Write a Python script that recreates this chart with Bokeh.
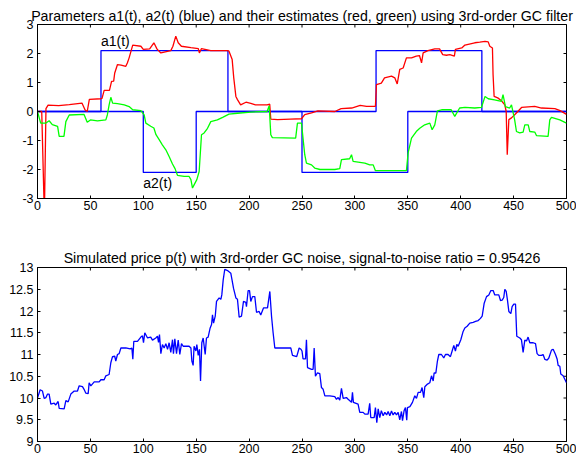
from bokeh.plotting import figure
from bokeh.models import LinearAxis, FixedTicker, Range1d
from bokeh.layouts import column
from bokeh.core.properties import value
from bokeh.embed import file_html
from bokeh.resources import INLINE

# ---------------- data ----------------
title_top = "Parameters a1(t), a2(t) (blue) and their estimates (red, green) using 3rd-order GC filter"
title_bottom = "Simulated price p(t) with 3rd-order GC noise, signal-to-noise ratio = 0.95426"

x_ticks = [0, 50, 100, 150, 200, 250, 300, 350, 400, 450, 500]
y_ticks_top = [-3, -2, -1, 0, 1, 2, 3]
y_labels_top = ["-3", "-2", "-1", "0", "1", "2", "3"]
y_ticks_bottom = [9, 9.5, 10, 10.5, 11, 11.5, 12, 12.5, 13]
y_labels_bottom = ["9", "9.5", "10", "10.5", "11", "11.5", "12", "12.5", "13"]

a1_t = [0, 60, 60, 180, 180, 320, 320, 420, 420, 500]
a1_v = [0, 0, 2.1, 2.1, 0, 0, 2.1, 2.1, 0, 0]
a2_t = [0, 100, 100, 150, 150, 250, 250, 350, 350, 500]
a2_v = [0, 0, -2.1, -2.1, 0, 0, -2.1, -2.1, 0, 0]

labels_text = ["a1(t)", "a2(t)"]
labels_t = [60, 100]
labels_v = [2.42, -2.46]

red_t = [0, 4, 6.5, 8, 10, 20, 30, 42, 45, 47, 49, 60, 61, 63, 68, 70, 72, 73, 75.6, 79,
         83.5, 85, 86.6, 90, 97.7, 100, 106, 110, 113, 116.6, 126, 128, 130.7, 133, 136, 145,
         152, 153, 155, 163.8, 179.6, 181, 184, 185.5, 187.5, 189, 192, 197, 201.6, 206, 217,
         219.5, 220.5, 227, 239, 249.5, 252.6, 259, 265, 281, 287, 297, 305, 311, 319.4, 320.4,
         325, 328, 334.6, 337.7, 340, 342.4, 345.6, 348.7, 353.5, 358, 361, 363, 364.5, 369,
         375.5, 380, 383, 386.5, 389.7, 394, 395, 401, 404, 413.3, 418, 423, 426, 427.5, 430,
         430.6, 431.6, 435, 438.5, 441.7, 443, 444, 445.5, 448, 451, 454, 457.5, 470, 476.3,
         489, 494, 500]
red_v = [0.0, 0.0, -3.6, 0.1, 0.22, 0.2, 0.24, 0.29, 0.05, 0.0, 0.42, 0.44, 0.45, 0.73, 0.73,
         1.04, 1.05, 1.33, 1.62, 1.6, 1.56, 1.68, 1.85, 2.29, 2.25, 2.14, 2.16, 2.37, 2.15, 2.02,
         2.1, 2.25, 2.6, 2.37, 2.25, 2.2, 2.17, 2.02, 2.17, 2.1, 2.1, 2.08, 1.79, 1.16, 0.52,
         0.41, 0.23, 0.32, 0.28, 0.23, 0.23, 0.25, -0.26, -0.28, -0.26, -0.25, -0.11, -0.05,
         0.02, 0.0, 0.1, 0.12, 0.21, 0.18, 0.18, 0.93, 0.98, 1.16, 1.22, 1.16, 0.95, 1.45, 1.5,
         1.85, 1.85, 1.91, 1.93, 1.68, 2.02, 2.1, 2.16, 2.16, 1.96, 1.94, 1.96, 1.91, 2.14, 2.19,
         2.29, 2.37, 2.39, 2.42, 2.4, 2.25, 2.19, 1.27, 0.52, 0.47, 0.37, 0.23, 0.0, -1.49,
         -0.28, -0.22, -0.11, 0.0, 0.14, 0.18, 0.12, 0.1, 0.03, -0.1]

green_t = [0, 3, 8, 11, 14, 19, 20.5, 25, 26.8, 30, 44, 47, 50, 56.7, 64.6, 66, 67.7, 69.3, 71,
           75.6, 82, 86.6, 90, 97.7, 100.8, 102.4, 107, 110, 112, 115, 118, 121.3, 124.4, 127.6,
           130, 132.3, 138.6, 143.3, 145, 146.5, 148, 150.6, 152.8, 153.7, 155, 157.5, 160.7,
           163.8, 170, 175, 181, 189, 201.6, 217, 219, 220.5, 222, 244, 245.7, 249.5, 252.6,
           254.2, 259, 262, 267, 281, 285.7, 287.3, 295, 296.8, 298.3, 309.4, 314, 317.3, 319.4,
           341, 348.7, 350.3, 353.5, 358, 361.3, 366, 370.8, 373, 375.5, 378, 382, 391, 394.4,
           399, 404, 413.3, 419.6, 423, 426, 432, 438.5, 440, 442.3, 446.3, 448, 451, 452.7,
           455.8, 459, 460.6, 463.8, 465.3, 470, 471.6, 482.6, 484.2, 485.8, 493.7, 500]
green_v = [0, -0.4, -0.4, -0.32, -0.45, -0.51, -0.86, -0.86, -0.35, -0.12, -0.1, -0.37, -0.29,
           -0.32, -0.29, -0.12, 0.23, 0.49, 0.29, 0.27, 0.23, 0.17, 0.06, 0.03, -0.12, -0.4,
           -0.51, -0.57, -0.8, -0.97, -1.15, -1.32, -1.55, -1.81, -1.97, -2.2, -2.24, -2.24,
           -2.35, -2.64, -2.53, -2.35, -2.07, -1.55, -0.8, -0.74, -0.58, -0.35, -0.29, -0.2,
           -0.09, -0.06, -0.02, 0.0, 0.2, -0.8, -0.9, -0.92, -0.4, -0.4, -1.49, -1.78, -1.84,
           -1.95, -2.0, -2.0, -1.97, -1.66, -1.63, -1.49, -1.72, -1.78, -1.84, -1.84, -2.04,
           -2.04, -2.04, -1.43, -0.92, -0.69, -0.58, -0.46, -0.4, -0.63, -0.46, 0.02, 0.06,
           0.06, -0.17, 0.12, 0.14, 0.12, 0.14, 0.52, 0.44, 0.4, 0.35, 0.58, 0.17, 0.12, 0.23,
           -0.29, -0.69, -0.74, -0.71, -0.46, -0.46, -0.69, -0.71, -0.83, -0.86, -0.29, -0.2,
           -0.29, -0.4]

price_t = [0, 2.5, 4.7, 6.3, 8, 9.5, 11, 12.6, 15.8, 17.3, 19.5, 20.5, 25.2, 26.8, 29, 31.5,
           34.7, 37.8, 39.4, 42.5, 44, 45.7, 47.9, 48.8, 50.4, 53.6, 58.3, 59.9, 63, 64.6, 67.7,
           69.3, 70.9, 73, 74, 75.6, 77.2, 78.8, 83.5, 87.6, 89.2, 90.1, 91, 94.5, 97.7, 99.2,
           100.2, 101.4, 104, 107, 108.7, 111.8, 113.4, 114.4, 115.3, 116.6, 118.1, 119.7, 121.3,
           122.9, 124.4, 126, 127.6, 128.5, 129.8, 131.4, 133, 134.5, 136.1, 137.7, 140.2, 143.3,
           145, 145.9, 147.1, 148, 149.7, 150.6, 151.9, 153.1, 154.1, 155.3, 156.6, 158.5, 159.7,
           161.3, 163.2, 164.5, 165.4, 166.4, 168, 169.2, 171.7, 173.3, 174.2, 175.5, 177, 179.6,
           182.7, 185.3, 187.5, 189, 190.6, 192.8, 194.7, 196.9, 197.5, 199.1, 200.4, 201.6,
           203.2, 205.4, 207, 209.5, 211, 213.6, 217.4, 219.6, 221.2, 222.7, 224.3, 230, 239.4,
           241, 245, 247.3, 249, 250, 251, 253.3, 254.2, 255.2, 259, 260.5, 261.5, 262.7, 264.6,
           266.8, 268.4, 270, 271.6, 276.3, 281, 282.6, 284.2, 285.7, 287.3, 288.9, 292, 293.6,
           296.8, 297.7, 298.6, 303, 304.6, 307.8, 309.4, 312.5, 314, 315, 318.2, 319.4, 320.7,
           322, 323.5, 325, 326.7, 328.3, 330, 331.4, 333, 334.6, 336.1, 337.7, 339.3, 340.9,
           342.4, 344, 345, 346.5, 347.8, 349, 349.7, 352, 354.4, 356.6, 358.2, 359.8, 362,
           363.5, 365.1, 366.1, 368.6, 370.8, 372.4, 374, 374.9, 376.5, 378, 379.3, 381.8, 384,
           385.6, 388.1, 390.3, 391.9, 393.5, 395, 396.3, 397.6, 400.1, 402.3, 403.9, 406.1,
           408.6, 411.8, 414, 416.5, 418.7, 420.3, 422.2, 424.4, 426.6, 428.5, 430.7, 432.2,
           433.8, 436, 437.6, 439.2, 440.7, 441.7, 443, 444.2, 445.5, 447.4, 448.6, 450.2, 451.8,
           453, 455.9, 457.4, 459, 460.6, 462.2, 463.7, 465.3, 468.5, 470.7, 472.2, 473.8, 476.3,
           477.9, 479.5, 481.7, 483.3, 485.8, 487.4, 489.6, 491.2, 492.1, 493.7, 494.6, 496.8,
           498.4, 500]
price_v = [10.0, 10.19, 10.16, 9.99, 10.01, 10.09, 10.09, 9.86, 9.88, 9.84, 9.92, 9.76, 9.75,
           9.94, 9.91, 10.09, 10.16, 10.16, 10.28, 10.26, 10.2, 10.11, 10.1, 10.35, 10.28, 10.37,
           10.37, 10.42, 10.42, 10.51, 10.54, 10.81, 10.95, 10.96, 10.85, 11.0, 11.02, 11.15,
           11.15, 11.13, 11.15, 10.89, 11.3, 11.3, 11.4, 11.43, 11.27, 11.5, 11.38, 11.4, 11.33,
           11.38, 11.42, 11.28, 11.46, 11.02, 11.23, 11.15, 11.25, 11.12, 11.27, 11.05, 11.34,
           11.02, 11.36, 11.02, 11.33, 11.0, 11.25, 11.19, 11.19, 11.19, 11.15, 10.85, 10.75,
           11.19, 11.08, 11.23, 10.98, 11.12, 10.39, 11.27, 11.38, 11.0, 11.38, 11.4, 11.61,
           11.69, 11.91, 11.72, 11.88, 12.22, 12.3, 12.27, 12.37, 12.71, 12.96, 12.93, 12.87,
           12.52, 12.3, 12.27, 11.86, 11.88, 12.22, 12.2, 12.1, 12.47, 12.47, 12.22, 12.33,
           12.33, 11.97, 11.99, 11.91, 12.07, 12.07, 12.45, 11.88, 11.5, 11.15, 11.15, 11.15,
           10.98, 10.95, 11.15, 11.12, 11.08, 10.9, 10.9, 11.34, 10.7, 10.66, 10.66, 11.15, 10.5,
           10.58, 10.56, 10.24, 10.2, 10.05, 10.05, 10.03, 9.97, 10.01, 9.95, 10.22, 9.99, 10.01,
           9.97, 9.9, 10.13, 9.9, 9.86, 9.67, 9.67, 9.63, 9.63, 9.88, 9.55, 9.55, 9.78, 9.43,
           9.75, 9.55, 9.71, 9.59, 9.67, 9.61, 9.69, 9.59, 9.7, 9.61, 9.67, 9.61, 9.67, 9.5,
           9.69, 9.48, 9.71, 9.78, 9.49, 9.78, 9.8, 9.9, 10.05, 9.99, 10.13, 10.13, 10.24, 10.01,
           10.26, 10.32, 10.35, 10.51, 10.39, 10.58, 10.57, 10.85, 11.0, 11.0, 10.92, 11.0, 11.0,
           10.95, 11.08, 11.21, 11.08, 11.23, 11.19, 11.34, 11.53, 11.61, 11.65, 11.72, 11.74,
           11.76, 11.78, 11.83, 11.88, 12.18, 12.33, 12.37, 12.47, 12.47, 12.37, 12.37, 12.37,
           12.24, 12.25, 12.31, 12.5, 12.45, 12.25, 11.99, 11.94, 12.1, 12.16, 12.16, 11.42,
           11.38, 11.34, 11.05, 11.33, 11.31, 11.4, 11.27, 11.27, 11.25, 11.02, 10.98, 10.98,
           11.0, 10.89, 10.87, 10.92, 11.1, 11.12, 11.0, 10.89, 10.75, 10.73, 10.55, 10.51,
           10.43, 10.35]

FONT = "Liberation Sans"
W = 576


def make_fig(height, yr, yticks, ylabels, border_top, border_bottom, title, standoff):
    p = figure(width=W, height=height,
               x_range=Range1d(0, 500), y_range=Range1d(*yr),
               output_backend="svg", toolbar_location=None,
               x_axis_location=None, y_axis_location=None,
               min_border_left=37, min_border_right=10,
               min_border_top=border_top, min_border_bottom=border_bottom)
    p.grid.visible = False
    p.outline_line_color = "black"
    p.outline_line_alpha = 1.0
    p.outline_line_width = 1
    p.background_fill_color = "white"
    p.border_fill_color = "white"
    p.title.text = title
    p.title.align = "center"
    p.title.text_font = FONT
    p.title.text_font_size = "14.2px"
    p.title.text_font_style = "normal"
    p.title.text_color = "black"
    p.title.standoff = standoff
    for loc, ticks, labels in (("below", x_ticks, None), ("left", yticks, ylabels)):
        ax = LinearAxis(ticker=FixedTicker(ticks=ticks))
        ax.major_tick_in = 3
        ax.major_tick_out = 0
        ax.minor_tick_line_color = None
        ax.axis_line_color = "black"
        ax.major_tick_line_color = "black"
        ax.major_label_text_font = FONT
        ax.major_label_text_font_size = "12.5px"
        ax.major_label_text_color = "black"
        ax.major_label_standoff = 2 if loc == "below" else 4
        if labels is not None:
            ax.major_label_overrides = {t: l for t, l in zip(ticks, labels)}
        p.add_layout(ax, loc)
    # inward tick marks on the top and right edges of the box (clipped to the frame)
    p.scatter(x=x_ticks, y=[yr[1]] * len(x_ticks), marker="dash", angle=1.5708,
              size=6, line_color="black", line_width=1)
    p.scatter(x=[500] * len(yticks), y=yticks, marker="dash",
              size=6, line_color="black", line_width=1)
    return p


p1 = make_fig(232, (-3, 3), y_ticks_top, y_labels_top, 24, 34, title_top, 2)
p1.line(a1_t, a1_v, line_color="#0000ff", line_width=1.3)
p1.line(a2_t, a2_v, line_color="#0000ff", line_width=1.3)
p1.line(red_t, red_v, line_color="#ff0000", line_width=1.3)
p1.line(green_t, green_v, line_color="#00ff00", line_width=1.3)
p1.text(x=labels_t, y=labels_v, text=labels_text, text_font=value(FONT),
        text_font_size="14px", text_baseline="middle", text_align="left", text_color="black")

p2 = make_fig(224, (9, 13), y_ticks_bottom, y_labels_bottom, 35, 15, title_bottom, 3)
p2.line(price_t, price_v, line_color="#0000ff", line_width=1.3)

layout = column(p1, p2, spacing=0)
open("out.html", "w").write(file_html(layout, INLINE))
